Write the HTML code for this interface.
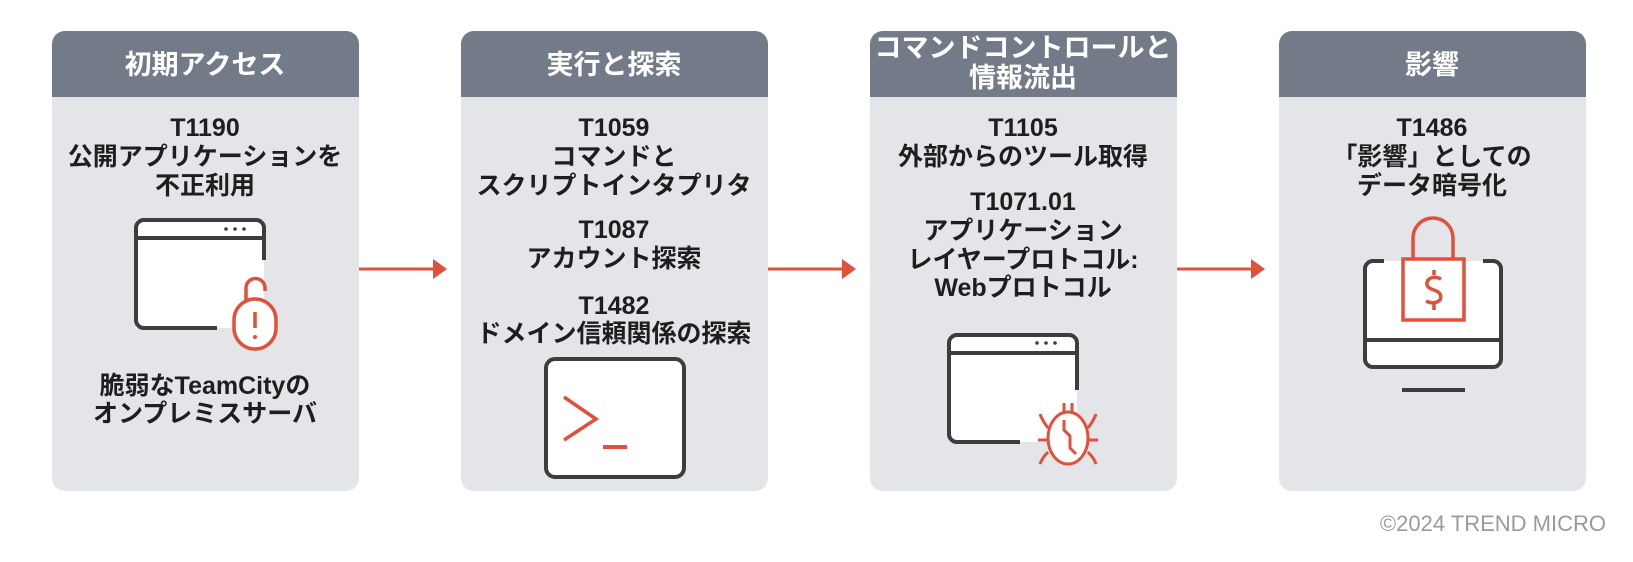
<!DOCTYPE html>
<html><head><meta charset="utf-8"><style>
html,body{margin:0;padding:0;background:#fff;}
svg{display:block;}
text{font-family:"Liberation Sans","Noto Sans CJK JP",sans-serif;font-weight:bold;}
.h{fill:#fff;font-size:27px;}
.b{fill:#1e1e1e;font-size:25px;}
</style></head><body>
<svg width="1633" height="562" viewBox="0 0 1633 562" xmlns="http://www.w3.org/2000/svg">
<defs>
<g id="panel">
<rect x="0" y="0" width="307" height="460" rx="13" fill="#e4e5e9"/>
<path d="M0,13 a13,13 0 0 1 13,-13 h281 a13,13 0 0 1 13,13 v53 h-307z" fill="#737b89"/>
</g>
</defs>
<g transform="translate(52,31)"><use href="#panel"/></g>
<g transform="translate(461,31)"><use href="#panel"/></g>
<g transform="translate(870,31)"><use href="#panel"/></g>
<g transform="translate(1279,31)"><use href="#panel"/></g>

<g stroke="#e0503a" stroke-width="3" fill="#e0503a">
<line x1="359" y1="269" x2="436" y2="269"/><path d="M433,259 L447,269 L433,279Z" stroke="none"/>
<line x1="768" y1="269" x2="845" y2="269"/><path d="M842,259 L856,269 L842,279Z" stroke="none"/>
<line x1="1177" y1="269" x2="1254" y2="269"/><path d="M1251,259 L1265,269 L1251,279Z" stroke="none"/>
</g>

<text class="h" x="205" y="74" text-anchor="middle">初期アクセス</text>
<text class="h" x="614" y="74" text-anchor="middle">実行と探索</text>
<text class="h" x="1023" y="57" text-anchor="middle">コマンドコントロールと</text>
<text class="h" x="1023" y="87" text-anchor="middle">情報流出</text>
<text class="h" x="1432" y="74" text-anchor="middle">影響</text>

<text class="b" x="205" y="136" text-anchor="middle">T1190</text>
<text class="b" x="205" y="165" text-anchor="middle">公開アプリケーションを</text>
<text class="b" x="205" y="194" text-anchor="middle">不正利用</text>
<text class="b" x="205" y="394" text-anchor="middle">脆弱なTeamCityの</text>
<text class="b" x="205" y="422" text-anchor="middle">オンプレミスサーバ</text>
<rect x="136" y="220" width="128" height="108" fill="#fff"/>
<g fill="none" stroke="#3d3d3d" stroke-width="4">
<path d="M217,328 H144 a8,8 0 0 1 -8,-8 V228 a8,8 0 0 1 8,-8 H256 a8,8 0 0 1 8,8 V260"/>
<line x1="136" y1="238" x2="264" y2="238"/>
</g>
<g fill="#3d3d3d"><circle cx="226" cy="229" r="1.8"/><circle cx="235" cy="229" r="1.8"/><circle cx="244" cy="229" r="1.8"/></g>
<g fill="none" stroke="#e0503a" stroke-width="3.5">
<path d="M246,300 V288 a9.5,9.5 0 0 1 19,0 V291"/>
<rect x="234" y="299" width="42" height="50" rx="21" fill="#fff"/>
<line x1="255" y1="312" x2="255" y2="328"/>
</g>
<circle cx="255" cy="337" r="2" fill="#e0503a"/>

<text class="b" x="614" y="136" text-anchor="middle">T1059</text>
<text class="b" x="614" y="165" text-anchor="middle">コマンドと</text>
<text class="b" x="614" y="194" text-anchor="middle">スクリプトインタプリタ</text>
<text class="b" x="614" y="238" text-anchor="middle">T1087</text>
<text class="b" x="614" y="267" text-anchor="middle">アカウント探索</text>
<text class="b" x="614" y="314" text-anchor="middle">T1482</text>
<text class="b" x="614" y="342" text-anchor="middle">ドメイン信頼関係の探索</text>
<rect x="546" y="359" width="138" height="118" rx="9" fill="#fff" stroke="#3d3d3d" stroke-width="4"/>
<path d="M564,397 L596,419 L564,440" fill="none" stroke="#e0503a" stroke-width="3.5"/>
<line x1="603" y1="447" x2="627" y2="447" stroke="#e0503a" stroke-width="4"/>

<text class="b" x="1023" y="136" text-anchor="middle">T1105</text>
<text class="b" x="1023" y="165" text-anchor="middle">外部からのツール取得</text>
<text class="b" x="1023" y="210" text-anchor="middle">T1071.01</text>
<text class="b" x="1023" y="239" text-anchor="middle">アプリケーション</text>
<text class="b" x="1023" y="268" text-anchor="middle">レイヤープロトコル:</text>
<text class="b" x="1023" y="296" text-anchor="middle">Webプロトコル</text>
<rect x="949" y="335" width="128" height="107" fill="#fff"/>
<g fill="none" stroke="#3d3d3d" stroke-width="4">
<path d="M1020,442 H957 a8,8 0 0 1 -8,-8 V343 a8,8 0 0 1 8,-8 H1069 a8,8 0 0 1 8,8 V390"/>
<line x1="949" y1="353" x2="1077" y2="353"/>
</g>
<g fill="#3d3d3d"><circle cx="1037" cy="343" r="1.8"/><circle cx="1046" cy="343" r="1.8"/><circle cx="1055" cy="343" r="1.8"/></g>
<g fill="none" stroke="#e0503a" stroke-width="3">
<ellipse cx="1068" cy="438" rx="20" ry="26" fill="#fff"/>
<path d="M1064,412 V403 M1072,412 V403"/>
<path d="M1048,428 Q1042,420 1040,414 M1088,428 Q1094,420 1096,414"/>
<path d="M1038,440 H1048 M1088,440 H1098"/>
<path d="M1048,452 Q1042,458 1040,464 M1088,452 Q1094,458 1096,464"/>
<path d="M1064,420 V430 L1070,436 V448 L1076,454"/>
</g>

<text class="b" x="1432" y="136" text-anchor="middle">T1486</text>
<text class="b" x="1432" y="165" text-anchor="middle">「影響」としての</text>
<text class="b" x="1432" y="194" text-anchor="middle">データ暗号化</text>
<rect x="1365" y="261" width="136" height="106" fill="#fff"/>
<g fill="none" stroke="#3d3d3d" stroke-width="4">
<path d="M1384,261 H1373 a8,8 0 0 0 -8,8 V359 a8,8 0 0 0 8,8 H1493 a8,8 0 0 0 8,-8 V269 a8,8 0 0 0 -8,-8 H1483"/>
<line x1="1365" y1="340" x2="1501" y2="340"/>
<line x1="1402" y1="390" x2="1465" y2="390"/>
</g>
<g fill="none" stroke="#e0503a" stroke-width="3.5">
<path d="M1413,259 V238 a20,20 0 0 1 40,0 V259"/>
<rect x="1403" y="259" width="61" height="61" fill="#fff"/>
<path d="M1441,279 Q1433,275 1428,280 Q1424,287 1434,290 Q1443,293 1440,300 Q1434,305 1426,301"/>
<line x1="1434" y1="270" x2="1434" y2="275"/><line x1="1434" y1="304" x2="1434" y2="310"/>
</g>

<text x="1606" y="531" text-anchor="end" style="font-weight:normal;font-size:22px;fill:#9a9a9a;">©2024 TREND MICRO</text>
</svg>
</body></html>
